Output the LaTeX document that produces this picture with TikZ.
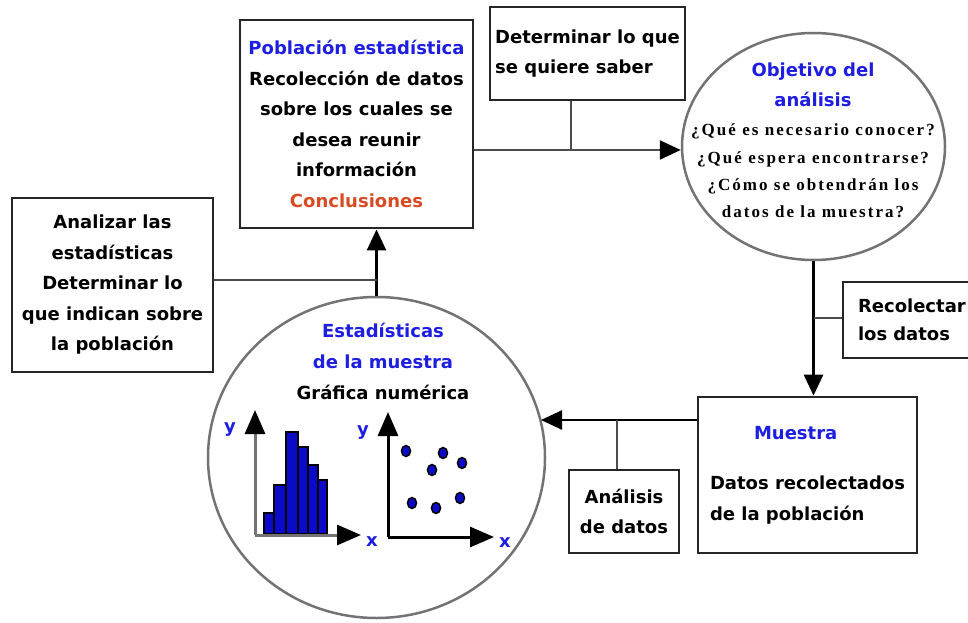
\documentclass[tikz,border=0pt]{standalone}
\usepackage{fontspec}
\setmainfont{DejaVu Sans}
\newfontfamily\askfont{Liberation Serif}[LetterSpace=12]
\usetikzlibrary{arrows.meta,shapes.geometric}
\definecolor{titblue}{RGB}{30,30,225}
\definecolor{concl}{RGB}{215,75,35}
\definecolor{barblue}{RGB}{10,10,200}
\tikzset{
  box/.style={draw=black!85, line width=2.8pt, fill=white, inner sep=0pt, align=center,
    font=\bfseries\fontsize{18}{30.5}\selectfont},
  ellip/.style={ellipse, draw=black!55, line width=2.5pt, inner sep=0pt},
  conn/.style={draw=black!70, line width=2.5pt},
  tip/.style={-{Triangle[length=21pt,width=19pt,color=black]}},
  axis/.style={line width=3pt, -{Triangle[length=24pt,width=20pt,color=black]}},
  bar/.style={draw=black, line width=2pt, fill=barblue},
  dot/.style={draw=black, line width=1.5pt, fill=barblue},
  lab/.style={text=titblue, font=\bfseries\fontsize{18}{20}\selectfont}
}
\begin{document}
\begin{tikzpicture}[x=1pt,y=-1pt]
\useasboundingbox (0,0) rectangle (968,623);
\clip (0,0) rectangle (968,623);

% boxes
\node[box, minimum width=233pt, minimum height=208pt] (pob) at (356.5,124)
  {\textcolor{titblue}{Población estadística}\\ Recolección de datos\\ sobre los cuales se\\
   desea reunir\\ información\\ \textcolor{concl}{Conclusiones}};
\node[box, minimum width=195pt, minimum height=93pt, align=left] (det) at (587.5,53.5)
  {Determinar lo que\\ se quiere saber};
\node[box, minimum width=201pt, minimum height=174pt] (anl) at (112.5,285)
  {Analizar las\\ estadísticas\\ Determinar lo\\ que indican sobre\\ la población};
\node[box, minimum width=167pt, minimum height=76pt, text width=137pt, align=left,
  font=\bfseries\fontsize{18}{28}\selectfont] (rec) at (926.5,320)
  {Recolectar\\ los datos};
\node[box, minimum width=219pt, minimum height=156pt, align=left] (mue) at (807.5,475)
  {\hspace*{44pt}\textcolor{titblue}{Muestra}\\[20pt] Datos recolectados\\ de la población};
\node[box, minimum width=110pt, minimum height=83pt] (ana) at (624,511.5)
  {Análisis\\ de datos};

% ellipses
\node[ellip, minimum width=263pt, minimum height=227pt] (obj) at (813.5,146.5) {};
\node[align=center, inner sep=0pt, text=titblue, font=\bfseries\fontsize{18}{30}\selectfont]
  (objtit) at (813,85) {Objetivo del\\ análisis};
\node[align=center, inner sep=0pt, font=\askfont\bfseries\fontsize{17}{27.3}\selectfont]
  (objq) at (813,171) {¿Qué es necesario conocer?\\ ¿Qué espera encontrarse?\\
   ¿Cómo se obtendrán los\\ datos de la muestra?};
\node[ellip, minimum width=337pt, minimum height=321pt] (est) at (376.5,457.5) {};
\node[align=center, inner sep=0pt, font=\bfseries\fontsize{18}{31}\selectfont] (esttxt) at (383,361)
  {\textcolor{titblue}{Estadísticas}\\ \textcolor{titblue}{de la muestra}\\ Gráfica numérica};

% connectors
\coordinate (j1) at (571,150);
\coordinate (j2) at (813.5,318);
\coordinate (j3) at (617,420);
\coordinate (estin) at (541,420);
\draw[conn, tip] (pob.east |- j1) -- (obj.west |- j1);
\draw[conn] (det.south -| j1) -- (j1);
\draw[conn, draw=black, line width=3pt, tip] (obj.south) -- (obj.south |- mue.north);
\draw[conn] (j2) -- (rec.west |- j2);
\draw[conn, draw=black, tip] (mue.west |- j3) -- (estin);
\draw[conn] (j3 |- ana.north) -- (j3);
\draw[conn, draw=black, tip] (est.north) -- (est.north |- pob.south);
\draw[conn] (anl.east |- 0,280) -- (est.north |- 0,280);

% histogram
\foreach \l/\r/\t in {264/274/513, 274/286/485, 286/298/432, 298/308/447, 308/318/465, 318/327/480}
  \draw[bar] (\l,534) rectangle (\r,\t);
\draw[axis, draw=black!55] (255,535) -- (255,410);
\draw[axis, draw=black!55] (255,535) -- (361,535);
\node[lab] (hy) at (230,430) {y};
\node[lab] (hx) at (372,542) {x};

% scatter
\draw[axis] (388,537) -- (388,412);
\draw[axis] (388,537) -- (494,537);
\node[lab] (sy) at (363,433) {y};
\node[lab] (sx) at (505,543) {x};
\foreach \px/\py in {406/451, 443/453, 432/470, 462/463, 412/503, 436/508, 460/498}
  \draw[dot] (\px,\py) ellipse (4.5 and 5.5);
\end{tikzpicture}
\end{document}
